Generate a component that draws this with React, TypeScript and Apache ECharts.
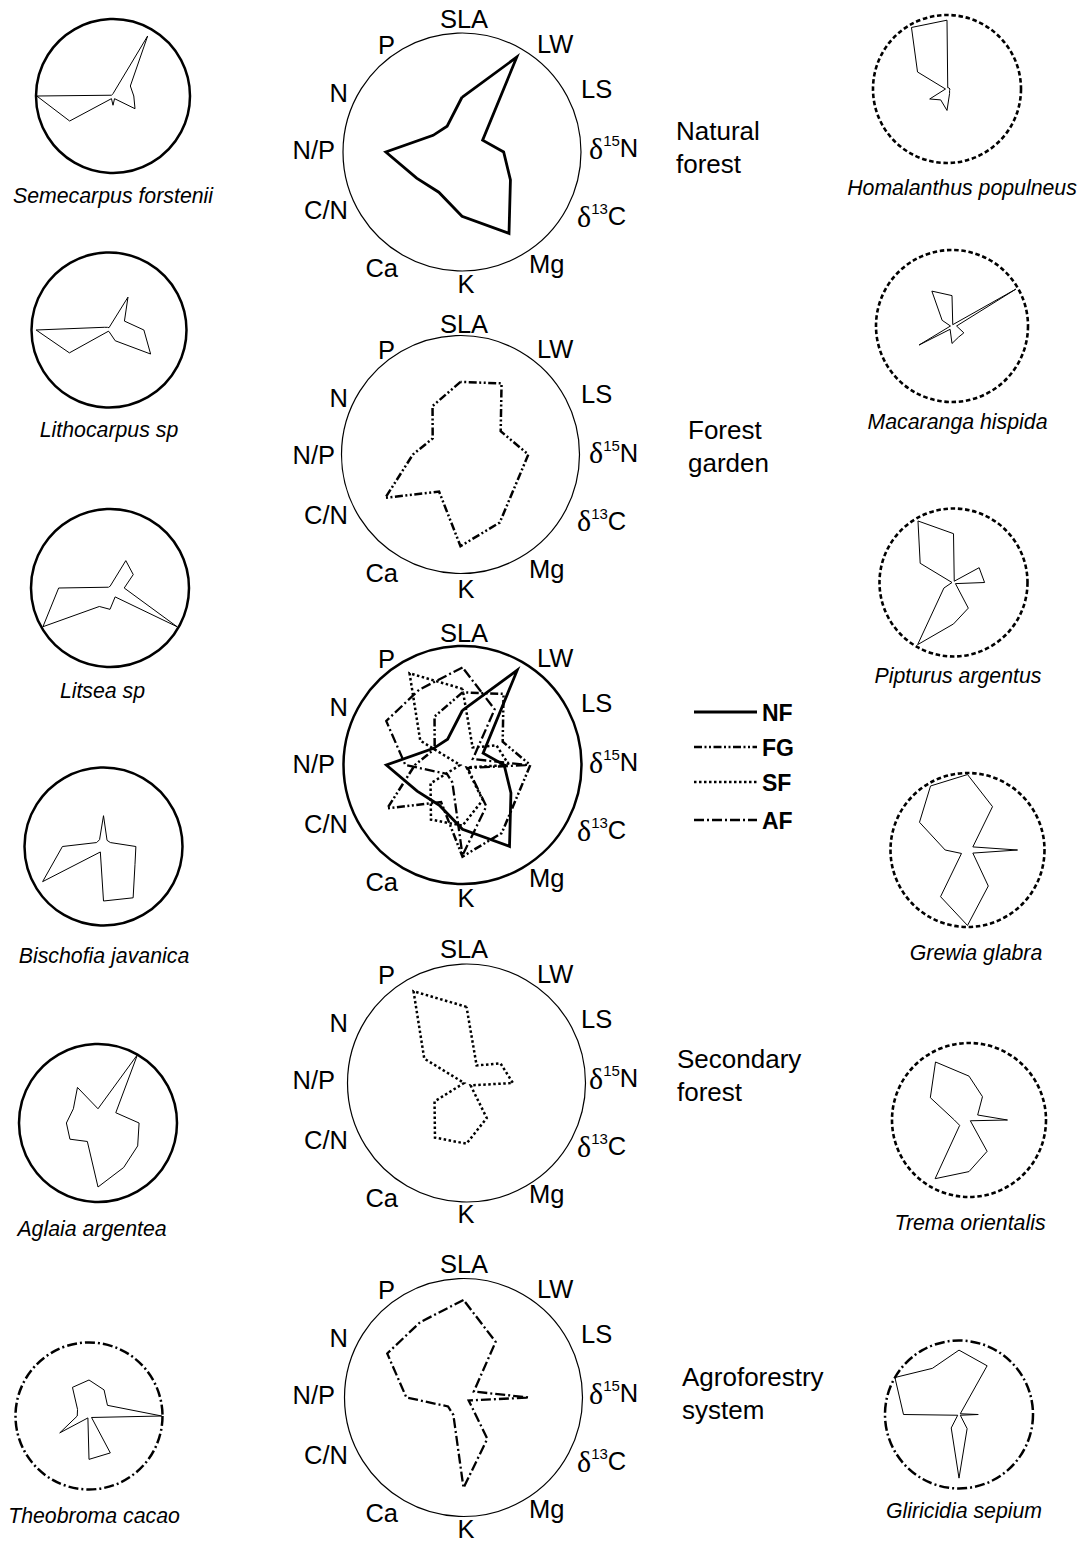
import React, { useEffect, useRef } from 'react';
import * as echarts from 'echarts';

// ---------- DATA (values as fraction of the radar radius, axes clockwise from top) ----------
const AXES = ['SLA', 'LW', 'LS', 'δ15N', 'δ13C', 'Mg', 'K', 'Ca', 'C/N', 'N/P', 'N', 'P'];

const NF = [0.46, 0.92, 0.2, 0.35, 0.47, 0.79, 0.54, 0.39, 0.44, 0.64, 0.28, 0.25];
const FG = [0.61, 0.69, 0.39, 0.57, 0.53, 0.66, 0.77, 0.36, 0.73, 0.4, 0.27, 0.47];
const SF = [0.64, 0.17, 0.33, 0.39, 0.04, 0.34, 0.51, 0.53, 0.31, 0.02, 0.41, 0.89];
const AF = [0.82, 0.54, 0.1, 0.55, 0.05, 0.4, 0.76, 0.17, 0.15, 0.48, 0.74, 0.73];

const SEMECARPUS = [0.03, 0.9, 0.26, 0.27, 0.33, 0.04, 0.12, 0.04, 0.65, 0.99, 0.02, 0.02];
const LITHOCARPUS = [0.03, 0.49, 0.23, 0.45, 0.62, 0.16, 0.02, 0.02, 0.59, 0.94, 0.07, 0.04];
const LITSEA = [0.02, 0.4, 0.34, 0.18, 0.98, 0.13, 0.27, 0.27, 0.98, 0.65, 0.02, 0.02];
const BISCHOFIA = [0.39, 0.09, 0.1, 0.41, 0.46, 0.75, 0.69, 0.08, 0.89, 0.52, 0.1, 0.1];
const AGLAIA = [0.18, 1.0, 0.26, 0.52, 0.58, 0.65, 0.81, 0.27, 0.41, 0.4, 0.36, 0.52];
const THEOBROMA = [0.49, 0.41, 0.29, 0.99, 0.04, 0.58, 0.59, 0.03, 0.46, 0.16, 0.18, 0.45];
const HOMALANTHUS = [0.93, 0.02, 0.03, 0.04, 0.04, 0.07, 0.29, 0.17, 0.27, 0.02, 0.46, 0.96];
const MACARANGA = [0.4, 0.02, 0.97, 0.06, 0.18, 0.17, 0.23, 0.05, 0.5, 0.02, 0.15, 0.53];
const PIPTURUS = [0.66, 0.02, 0.4, 0.42, 0.03, 0.4, 0.56, 0.97, 0.15, 0.02, 0.52, 0.96];
const GREWIA = [0.98, 0.65, 0.08, 0.65, 0.08, 0.54, 0.98, 0.7, 0.09, 0.29, 0.72, 0.96];
const TREMA = [0.57, 0.35, 0.13, 0.5, 0.02, 0.47, 0.67, 0.88, 0.14, 0.19, 0.58, 0.87];
const GLIRICIDIA = [0.87, 0.76, 0.02, 0.26, 0.02, 0.22, 0.86, 0.21, 0.02, 0.75, 1.0, 0.72];

const SITE_KEYS = ['NF', 'FG', 'SF', 'AF'];
const SITE_VALUES: Record<string, number[]> = { NF, FG, SF, AF };
const SITE_LABELS = ['Natural\nforest', 'Forest\ngarden', 'Secondary\nforest', 'Agroforestry\nsystem'];

const SPECIES_NAMES = [
  'Semecarpus forstenii', 'Lithocarpus sp', 'Litsea sp', 'Bischofia javanica', 'Aglaia argentea', 'Theobroma cacao',
  'Homalanthus populneus', 'Macaranga hispida', 'Pipturus argentus', 'Grewia glabra', 'Trema orientalis', 'Gliricidia sepium',
];
const SPECIES_VALUES = [
  SEMECARPUS, LITHOCARPUS, LITSEA, BISCHOFIA, AGLAIA, THEOBROMA,
  HOMALANTHUS, MACARANGA, PIPTURUS, GREWIA, TREMA, GLIRICIDIA,
];
const SPECIES_SITE = ['NF', 'NF', 'NF', 'NF', 'NF', 'AF', 'SF', 'SF', 'SF', 'SF', 'SF', 'AF'];

// ---------- LAYOUT / STYLE ----------
const SANS = 'Liberation Sans, Arial, Helvetica, sans-serif';
const SERIF = 'Liberation Serif, Times New Roman, serif';

const LINE_STYLES: Record<string, { type: any; width: number }> = {
  NF: { type: 'solid', width: 2.8 },
  FG: { type: [8, 2.5, 2, 2.5, 2, 2.5], width: 2.5 },
  SF: { type: [2.5, 2.5], width: 2.5 },
  AF: { type: [10, 3, 2, 3], width: 2.3 },
};
const CIRCLE_STYLES: Record<string, { type: any; width: number }> = {
  NF: { type: 'solid', width: 2.5 },
  SF: { type: [4.5, 2.7], width: 2.6 },
  AF: { type: [10, 3, 2, 3], width: 2.5 },
};

// central radars: circle centre, label origin, site label anchor
const CENTRAL = [
  { cx: 462, cy: 152, lx: 462, ly: 152, w: 1.2, sites: ['NF'], tx: 676, ty: 147 },
  { cx: 460.5, cy: 454.5, lx: 462, ly: 456.5, w: 1.2, sites: ['FG'], tx: 688, ty: 446 },
  { cx: 462.5, cy: 765, lx: 462, ly: 766, w: 2.5, sites: ['NF', 'FG', 'SF', 'AF'], tx: -1, ty: -1 },
  { cx: 466.5, cy: 1083, lx: 462, ly: 1082, w: 1.2, sites: ['SF'], tx: 677, ty: 1075 },
  { cx: 463.5, cy: 1397.5, lx: 462, ly: 1397, w: 1.2, sites: ['AF'], tx: 682, ty: 1393 },
];
const CENTRAL_R = 119;

// axis label offsets relative to the label origin
const LABEL_POS: [number, number, string][] = [
  [2, -133, 'center'], [75, -108, 'left'], [119, -63, 'left'], [127, -4, 'left'],
  [115, 64, 'left'], [67, 112, 'left'], [4, 132, 'center'], [-64, 116, 'right'],
  [-114, 58, 'right'], [-127, -2, 'right'], [-114, -59, 'right'], [-67, -107, 'right'],
];

const SMALL_LAYOUT = [
  { cx: 113, cy: 96, r: 77, nx: 113, ny: 196 },
  { cx: 109, cy: 330, r: 77.5, nx: 109, ny: 430 },
  { cx: 110, cy: 588, r: 79, nx: 102.5, ny: 691 },
  { cx: 103.5, cy: 846.5, r: 79, nx: 104, ny: 956 },
  { cx: 98, cy: 1123, r: 79, nx: 92, ny: 1229 },
  { cx: 89, cy: 1416, r: 73.5, nx: 94, ny: 1516 },
  { cx: 947, cy: 89, r: 74, nx: 962, ny: 188 },
  { cx: 952, cy: 326, r: 76, nx: 957.5, ny: 422 },
  { cx: 953.5, cy: 582.5, r: 74, nx: 958, ny: 676 },
  { cx: 967.5, cy: 850, r: 77, nx: 976, ny: 953 },
  { cx: 969, cy: 1120, r: 77, nx: 970, ny: 1223 },
  { cx: 959, cy: 1414.5, r: 74, nx: 964, ny: 1511 },
];

const LEGEND_X1 = 694;
const LEGEND_X2 = 757;
const LEGEND_Y = [712, 747, 782, 820];

// ECharts radar places indicators counter-clockwise; reverse to get clockwise order
const toCCW = <T,>(arr: T[]): T[] => [arr[0], ...arr.slice(1).reverse()];

const RICH = {
  d: { fontFamily: SERIF, fontSize: 30, lineHeight: 30, verticalAlign: 'middle', fill: '#000' },
  s: { fontFamily: SANS, fontSize: 15, lineHeight: 21, verticalAlign: 'top', fill: '#000' },
  n: { fontFamily: SANS, fontSize: 25.5, lineHeight: 30, verticalAlign: 'middle', fill: '#000' },
};

function buildOption() {
  const indicator = toCCW(AXES).map((name) => ({ name, min: 0, max: 1 }));
  const radar: any[] = [];
  const series: any[] = [];
  const graphic: any[] = [];

  const makeRadar = (cx: number, cy: number, r: number, circle: { type: any; width: number }) => ({
    center: [cx, cy],
    radius: r,
    startAngle: 90,
    shape: 'circle',
    splitNumber: 1,
    indicator,
    silent: true,
    axisName: { show: false },
    axisLine: { show: false },
    axisTick: { show: false },
    axisLabel: { show: false },
    splitArea: { show: false },
    splitLine: { show: true, lineStyle: { color: '#000', width: circle.width, type: circle.type } },
  });

  CENTRAL.forEach((c) => {
    const idx = radar.length;
    radar.push(makeRadar(c.cx, c.cy, CENTRAL_R, { type: 'solid', width: c.w }));
    series.push({
      type: 'radar',
      radarIndex: idx,
      symbol: 'none',
      silent: true,
      data: c.sites.map((k) => ({
        name: k,
        value: toCCW(SITE_VALUES[k]),
        lineStyle: { color: '#000', width: LINE_STYLES[k].width, type: LINE_STYLES[k].type, cap: 'butt', join: 'miter' },
        areaStyle: { opacity: 0 },
      })),
    });
    AXES.forEach((name, i) => {
      const [dx, dy, align] = LABEL_POS[i];
      const m = name.match(/^δ(\d+)(.+)$/);
      graphic.push({
        type: 'text',
        x: c.lx + dx,
        y: c.ly + dy,
        silent: true,
        style: {
          text: m ? `{d|δ}{s|${m[1]}}{n|${m[2]}}` : name,
          rich: m ? RICH : undefined,
          fontSize: 25.5,
          fontFamily: SANS,
          fill: '#000',
          align,
          verticalAlign: 'middle',
          textAlign: align,
          textVerticalAlign: 'middle',
        },
      });
    });
  });

  // site labels
  const siteAnchors = CENTRAL.filter((c) => c.tx > 0);
  siteAnchors.forEach((c, i) => {
    graphic.push({
      type: 'text',
      x: c.tx,
      y: c.ty,
      silent: true,
      style: {
        text: SITE_LABELS[i],
        fontSize: 26,
        lineHeight: 33,
        fontFamily: SANS,
        fill: '#000',
        align: 'left',
        verticalAlign: 'middle',
        textAlign: 'left',
        textVerticalAlign: 'middle',
      },
    });
  });

  // legend
  SITE_KEYS.forEach((k, i) => {
    graphic.push({
      type: 'line',
      silent: true,
      shape: { x1: LEGEND_X1, y1: LEGEND_Y[i], x2: LEGEND_X2, y2: LEGEND_Y[i] },
      style: {
        stroke: '#000',
        lineWidth: LINE_STYLES[k].width,
        lineDash: Array.isArray(LINE_STYLES[k].type) ? LINE_STYLES[k].type : null,
      },
    });
    graphic.push({
      type: 'text',
      x: LEGEND_X2 + 5,
      y: LEGEND_Y[i] + 1,
      silent: true,
      style: {
        text: k,
        fontSize: 23,
        fontWeight: 'bold',
        fontFamily: SANS,
        fill: '#000',
        align: 'left',
        verticalAlign: 'middle',
        textAlign: 'left',
        textVerticalAlign: 'middle',
      },
    });
  });

  // small species radars
  SPECIES_NAMES.forEach((name, i) => {
    const L = SMALL_LAYOUT[i];
    const idx = radar.length;
    radar.push(makeRadar(L.cx, L.cy, L.r, CIRCLE_STYLES[SPECIES_SITE[i]]));
    series.push({
      type: 'radar',
      radarIndex: idx,
      symbol: 'none',
      silent: true,
      data: [
        {
          name,
          value: toCCW(SPECIES_VALUES[i]),
          lineStyle: { color: '#000', width: 1, type: 'solid' },
          areaStyle: { opacity: 0 },
        },
      ],
    });
    graphic.push({
      type: 'text',
      x: L.nx,
      y: L.ny,
      silent: true,
      style: {
        text: name,
        fontSize: 21.3,
        fontStyle: 'italic',
        fontFamily: SANS,
        fill: '#000',
        align: 'center',
        verticalAlign: 'middle',
        textAlign: 'center',
        textVerticalAlign: 'middle',
      },
    });
  });

  return {
    animation: false,
    backgroundColor: '#fff',
    radar,
    series,
    graphic: { elements: graphic },
  };
}

export default function App() {
  const ref = useRef<HTMLDivElement>(null);
  useEffect(() => {
    if (!ref.current) return;
    const chart = echarts.init(ref.current, null, { renderer: 'svg', width: 1084, height: 1542 });
    chart.setOption(buildOption() as any);
    return () => chart.dispose();
  }, []);
  return (
    <div
      ref={ref}
      style={{ position: 'absolute', left: 0, top: 0, width: 1084, height: 1542, background: '#fff' }}
    />
  );
}
